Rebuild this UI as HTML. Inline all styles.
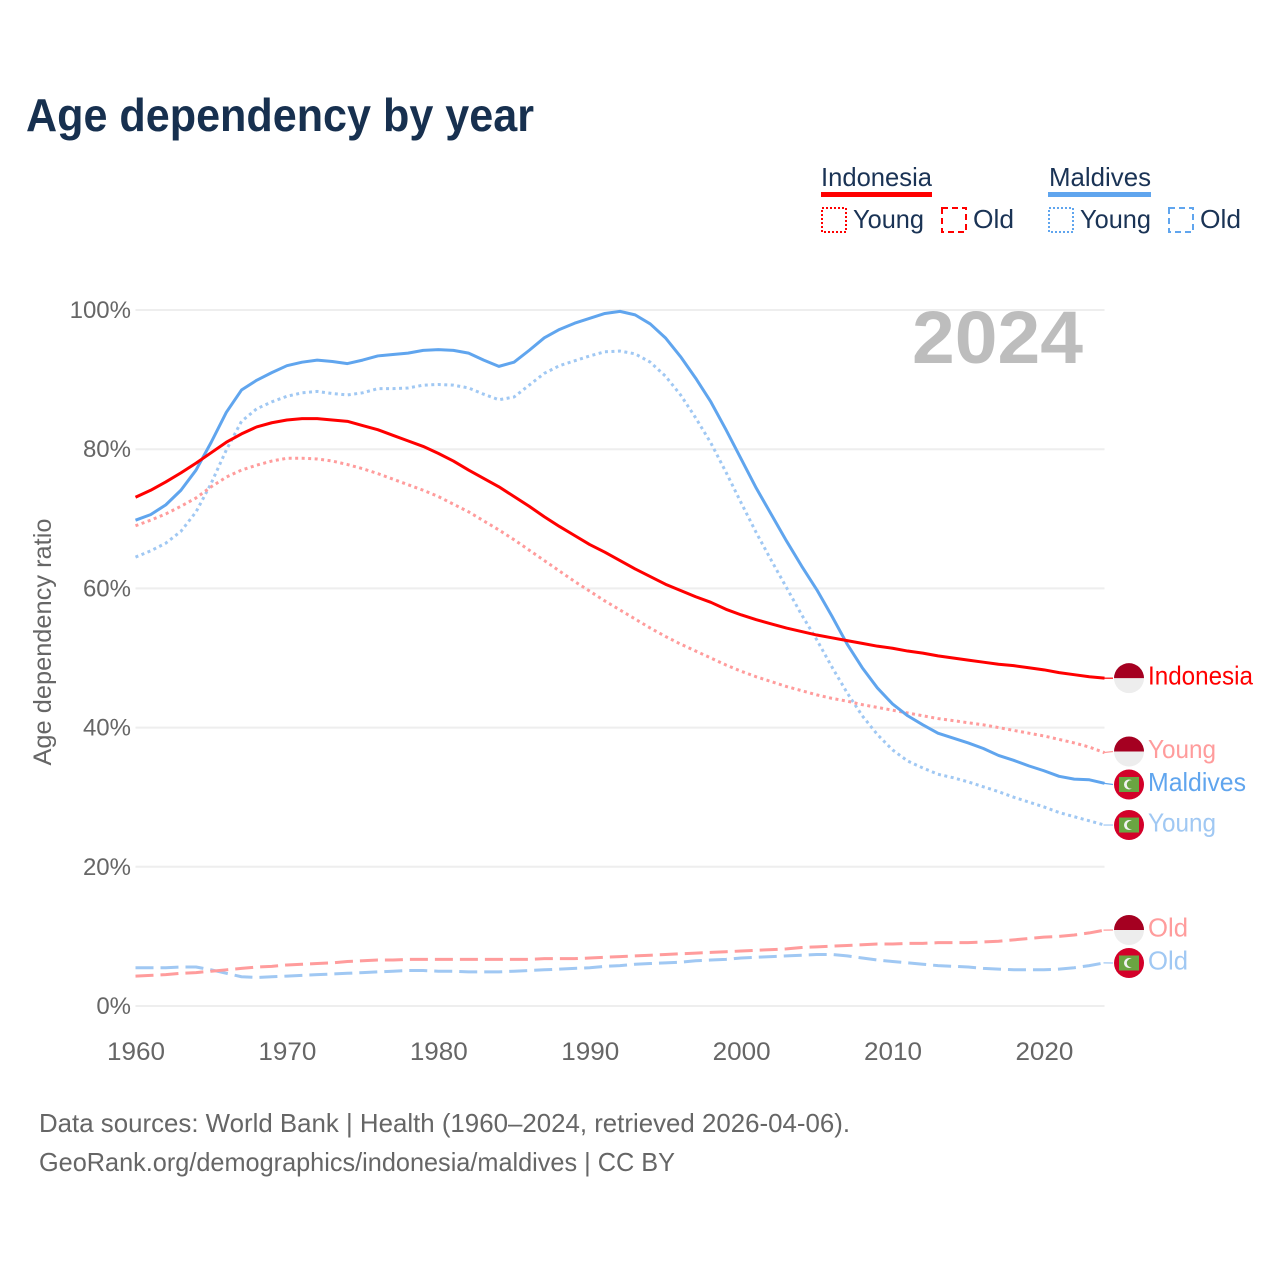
<!DOCTYPE html>
<html lang="en">
<head>
<meta charset="utf-8">
<title>Age dependency by year</title>
<style>
html,body{margin:0;padding:0;background:#fff;}
svg{display:block;font-family:"Liberation Sans",sans-serif;}
</style>
</head>
<body>
<svg id="chart" xmlns="http://www.w3.org/2000/svg" width="1280" height="1280" viewBox="0 0 1280 1280">
  <rect x="0" y="0" width="1280" height="1280" fill="#fff"/>
  <text x="26" y="131" font-size="46" font-weight="700" fill="#17304f" textLength="508" lengthAdjust="spacingAndGlyphs">Age dependency by year</text>

  <g font-size="26" fill="#1a3355">
    <text x="821" y="186" textLength="111" lengthAdjust="spacingAndGlyphs">Indonesia</text>
    <rect x="821" y="192" width="111" height="5" fill="#ff0000"/>
    <rect x="822" y="208" width="24" height="24" fill="none" stroke="#ff0000" stroke-width="2" stroke-dasharray="2 2"/>
    <text x="853" y="228" textLength="71" lengthAdjust="spacingAndGlyphs">Young</text>
    <rect x="942" y="208" width="24" height="24" fill="none" stroke="#ff0000" stroke-width="2" stroke-dasharray="6 4"/>
    <text x="973" y="228" textLength="41" lengthAdjust="spacingAndGlyphs">Old</text>
    <text x="1049" y="186" textLength="102" lengthAdjust="spacingAndGlyphs">Maldives</text>
    <rect x="1048" y="192" width="103" height="5" fill="#60a5ee"/>
    <rect x="1049" y="208" width="24" height="24" fill="none" stroke="#60a5ee" stroke-width="2" stroke-dasharray="2 2"/>
    <text x="1080" y="228" textLength="71" lengthAdjust="spacingAndGlyphs">Young</text>
    <rect x="1169" y="208" width="24" height="24" fill="none" stroke="#60a5ee" stroke-width="2" stroke-dasharray="6 4"/>
    <text x="1200" y="228" textLength="41" lengthAdjust="spacingAndGlyphs">Old</text>
  </g>

  <g id="grid"></g>
  <text x="912" y="363" font-size="74" font-weight="700" fill="#bdbdbd" textLength="171" lengthAdjust="spacingAndGlyphs">2024</text>
  <g id="yticks"></g>
  <g id="xticks"></g>
  <text transform="translate(51,642) rotate(-90)" text-anchor="middle" font-size="25" fill="#666" textLength="247" lengthAdjust="spacingAndGlyphs">Age dependency ratio</text>
  <g id="series"></g>
  <g id="labels"></g>

  <text x="39" y="1132" font-size="26" fill="#666" textLength="811" lengthAdjust="spacingAndGlyphs">Data sources: World Bank | Health (1960–2024, retrieved 2026-04-06).</text>
  <text x="39" y="1171" font-size="26" fill="#666" textLength="636" lengthAdjust="spacingAndGlyphs">GeoRank.org/demographics/indonesia/maldives | CC BY</text>
</svg>
<script>
const startYear = 1960;
const endYear = 2024;
const xTickYears = [1960, 1970, 1980, 1990, 2000, 2010, 2020];
const yTickValues = [0, 20, 40, 60, 80, 100];
const indonesiaTotal = [73.1,74.1,75.3,76.6,78.0,79.5,81.0,82.2,83.2,83.8,84.2,84.4,84.4,84.2,84.0,83.4,82.8,82.0,81.2,80.4,79.4,78.3,77.0,75.8,74.6,73.2,71.8,70.3,68.9,67.6,66.3,65.2,64.0,62.8,61.7,60.6,59.7,58.8,58.0,57.0,56.2,55.5,54.9,54.3,53.8,53.3,52.9,52.5,52.1,51.7,51.4,51.0,50.7,50.3,50.0,49.7,49.4,49.1,48.9,48.6,48.3,47.9,47.6,47.3,47.1];
const indonesiaYoung = [69.0,69.8,70.7,71.8,73.0,74.6,76.0,77.0,77.7,78.3,78.7,78.7,78.6,78.3,77.8,77.2,76.5,75.7,74.9,74.1,73.2,72.1,71.0,69.7,68.4,67.0,65.5,64.0,62.5,61.0,59.6,58.2,56.9,55.6,54.3,53.1,52.0,51.0,50.0,49.0,48.1,47.3,46.6,45.9,45.3,44.7,44.2,43.8,43.3,42.9,42.5,42.1,41.7,41.3,41.0,40.7,40.4,40.0,39.6,39.2,38.8,38.3,37.8,37.2,36.4];
const indonesiaOld = [4.3,4.4,4.5,4.7,4.8,5.0,5.2,5.4,5.6,5.7,5.9,6.0,6.1,6.2,6.4,6.5,6.6,6.6,6.7,6.7,6.7,6.7,6.7,6.7,6.7,6.7,6.7,6.8,6.8,6.8,6.9,7.0,7.1,7.2,7.3,7.4,7.5,7.6,7.7,7.8,7.9,8.0,8.1,8.2,8.4,8.5,8.6,8.7,8.8,8.9,8.9,9.0,9.0,9.1,9.1,9.1,9.2,9.3,9.5,9.7,9.9,10.0,10.2,10.5,10.9];
const maldivesTotal = [69.8,70.6,72.0,74.1,77.0,81.0,85.3,88.5,89.9,91.0,92.0,92.5,92.8,92.6,92.3,92.8,93.4,93.6,93.8,94.2,94.3,94.2,93.8,92.8,91.9,92.5,94.2,96.0,97.2,98.1,98.8,99.5,99.8,99.3,98.0,96.0,93.3,90.2,86.8,82.8,78.6,74.4,70.6,66.8,63.2,59.8,56.0,52.0,48.6,45.7,43.4,41.7,40.4,39.2,38.5,37.8,37.0,36.0,35.3,34.5,33.8,33.0,32.6,32.5,32.0];
const maldivesYoung = [64.5,65.4,66.5,68.2,71.0,75.1,79.9,84.0,85.8,86.8,87.6,88.1,88.3,88.0,87.8,88.1,88.7,88.7,88.8,89.2,89.3,89.2,88.8,87.9,87.1,87.5,89.2,90.9,92.0,92.7,93.4,94.0,94.1,93.7,92.5,90.5,87.8,84.5,80.9,76.7,72.3,68.0,64.0,60.1,56.2,52.6,48.7,45.0,41.7,39.0,36.8,35.2,34.2,33.3,32.8,32.2,31.5,30.8,30.0,29.3,28.6,27.8,27.2,26.6,26.0];
const maldivesOld = [5.5,5.5,5.5,5.6,5.6,5.2,4.7,4.2,4.1,4.2,4.3,4.4,4.5,4.6,4.7,4.8,4.9,5.0,5.1,5.1,5.0,5.0,4.9,4.9,4.9,5.0,5.1,5.2,5.3,5.4,5.5,5.7,5.8,6.0,6.1,6.2,6.3,6.5,6.6,6.7,6.9,7.0,7.1,7.2,7.3,7.4,7.4,7.2,6.9,6.6,6.4,6.2,6.0,5.8,5.7,5.6,5.4,5.3,5.2,5.2,5.2,5.3,5.5,5.8,6.2];

const NS = 'http://www.w3.org/2000/svg';
const xScale = year => 135.5 + (year - startYear) * (1104.5 - 135.5) / (endYear - startYear);
const yScale = value => 1006 - value * 6.96;
const seriesList = [
  {key:'maldives-old', label:'Old', country:'maldives', values:maldivesOld, color:'#a0c8f3', dash:'18 7', labelWidth:40},
  {key:'indonesia-old', label:'Old', country:'indonesia', values:indonesiaOld, color:'#ff9c9c', dash:'18 7', labelWidth:40},
  {key:'maldives-young', label:'Young', country:'maldives', values:maldivesYoung, color:'#a0c8f3', dash:'3 3.5', labelWidth:68},
  {key:'indonesia-young', label:'Young', country:'indonesia', values:indonesiaYoung, color:'#ff9c9c', dash:'3 3.5', labelWidth:68},
  {key:'maldives-total', label:'Maldives', country:'maldives', values:maldivesTotal, color:'#60a5ee', dash:'', labelWidth:98},
  {key:'indonesia-total', label:'Indonesia', country:'indonesia', values:indonesiaTotal, color:'#ff0000', dash:'', labelWidth:105}
];

function make(tag, attrs, parent, text) {
  const node = document.createElementNS(NS, tag);
  for (const k in attrs) node.setAttribute(k, attrs[k]);
  if (text !== undefined) node.textContent = text;
  parent.appendChild(node);
  return node;
}

const gridGroup = document.getElementById('grid');
const yTickGroup = document.getElementById('yticks');
const xTickGroup = document.getElementById('xticks');
const seriesGroup = document.getElementById('series');
const labelGroup = document.getElementById('labels');

yTickValues.forEach(v => {
  const line = make('line', {x1:xScale(startYear), x2:xScale(endYear), y1:yScale(v), y2:yScale(v), stroke:'#eeeeee', 'stroke-width':2}, gridGroup);
  
  
  const tick = make('text', {x:131, y:yScale(v) + 8, 'text-anchor':'end', 'font-size':24, fill:'#666'}, yTickGroup, v + '%');
  
  
});

xTickYears.forEach(year => {
  const tick = make('text', {x:xScale(year) + 0.5, y:1060, 'text-anchor':'middle', 'font-size':25, fill:'#666', textLength:58, lengthAdjust:'spacingAndGlyphs'}, xTickGroup, String(year));
  
  
});

seriesList.forEach(s => {
  const d = s.values.map((v, i) => (i ? 'L' : 'M') + xScale(startYear + i).toFixed(2) + ' ' + yScale(v).toFixed(2)).join(' ');
  const attrs = {d:d, fill:'none', stroke:s.color, 'stroke-width':3, 'stroke-linejoin':'round'};
  if (s.dash) attrs['stroke-dasharray'] = s.dash;
  const path = make('path', attrs, seriesGroup);
  
  
});

/* Place end labels at the last value, pushing neighbours apart so the flags do not overlap. */
const minGap = 33;
const placed = seriesList.map(s => ({s:s, end:yScale(s.values[s.values.length - 1])}))
  .sort((a, b) => a.end - b.end);
placed.forEach(p => { p.y = p.end; });
placed.forEach((p, i) => {
  if (i === 0) return;
  const gap = p.y - placed[i - 1].y;
  if (gap < minGap) {
    const push = (minGap - gap) / 2;
    placed[i - 1].y -= push;
    p.y += push;
  }
});

function drawFlag(parent, country, cy, id) {
  const cx = 1129;
  const r = 15;
  const g = make('g', {}, parent);
  
  
  if (country === 'indonesia') {
    make('circle', {cx:cx, cy:cy, r:r, fill:'#ededed'}, g);
    make('path', {d:'M' + (cx - r) + ' ' + cy + ' A' + r + ' ' + r + ' 0 0 1 ' + (cx + r) + ' ' + cy + ' Z', fill:'#a50021'}, g);
  } else {
    make('circle', {cx:cx, cy:cy, r:r, fill:'#d30029'}, g);
    make('rect', {x:cx - 10, y:cy - 7.5, width:20, height:15, fill:'#6aa542'}, g);
    make('circle', {cx:cx, cy:cy, r:5, fill:'#f2f2f2'}, g);
    make('circle', {cx:cx + 2, cy:cy, r:4.2, fill:'#6aa542'}, g);
  }
}

placed.forEach(p => {
  const s = p.s;
  const leader = make('line', {x1:xScale(endYear) - 1, y1:p.end, x2:1113, y2:p.y, stroke:s.color, 'stroke-width':1.2}, labelGroup);
  
  
  drawFlag(labelGroup, s.country, p.y, s.key);
  const label = make('text', {x:1148, y:p.y + 6.5, 'font-size':26, fill:s.color, textLength:s.labelWidth, lengthAdjust:'spacingAndGlyphs'}, labelGroup, s.label);
  
  
});
</script>
</body>
</html>
